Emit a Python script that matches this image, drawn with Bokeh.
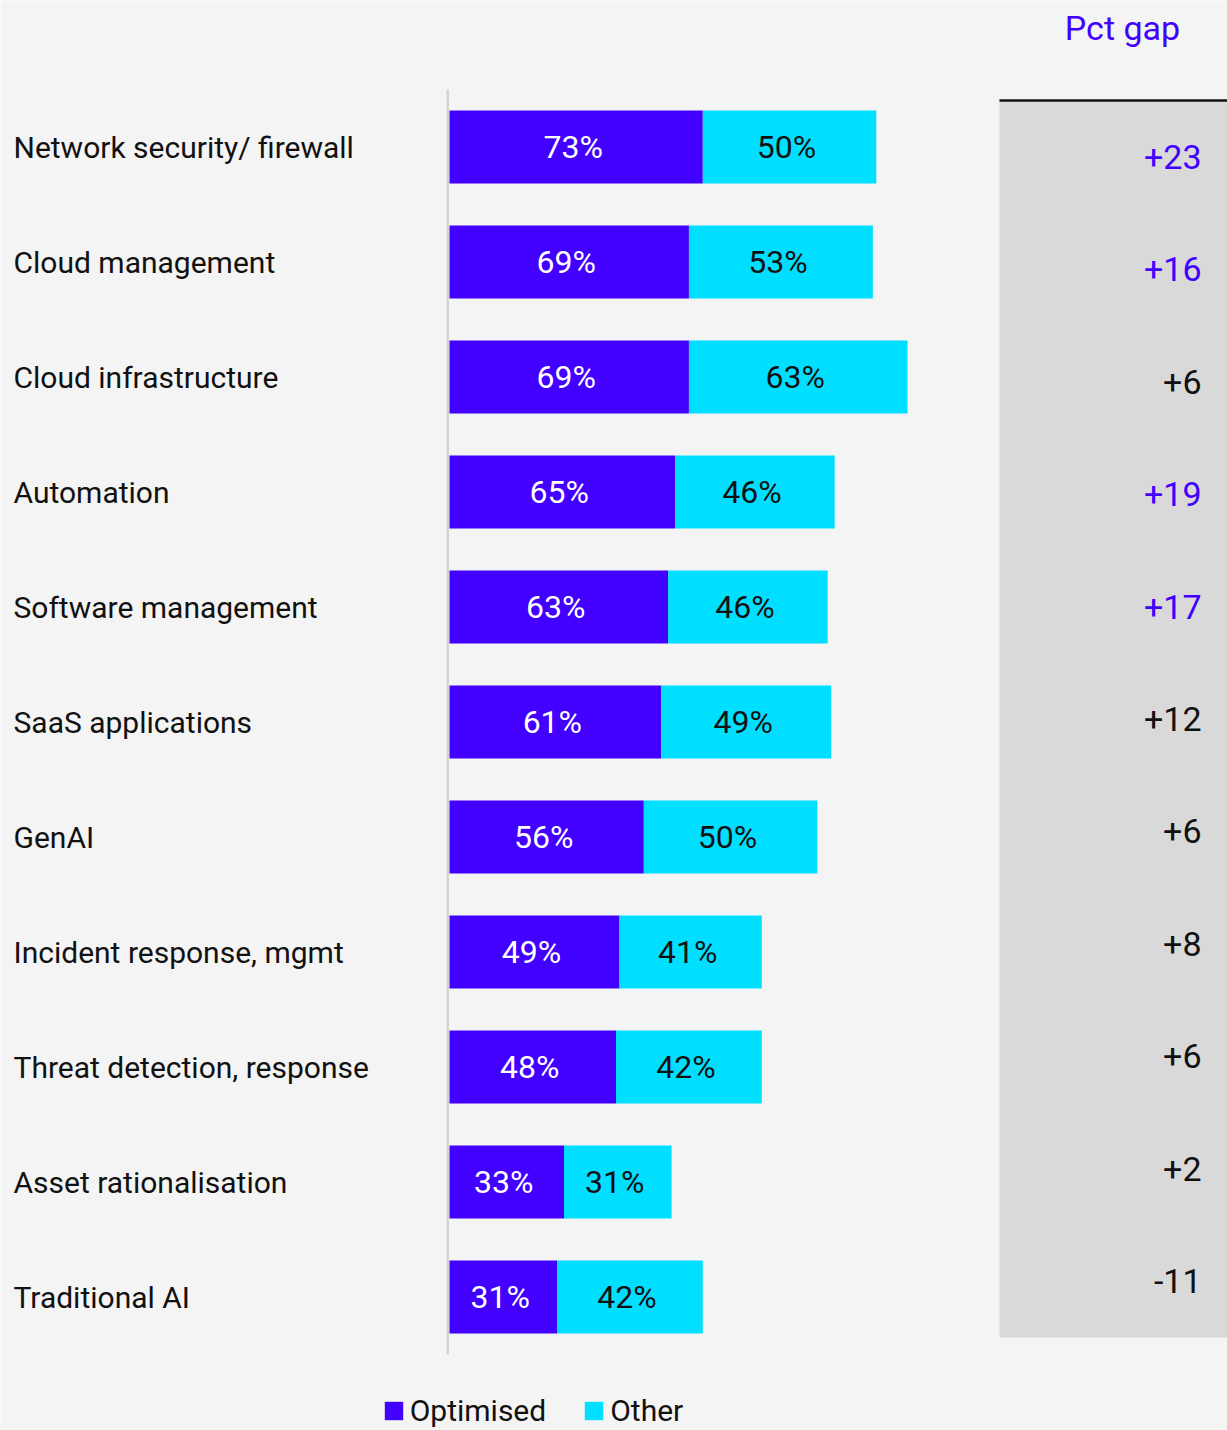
from bokeh.plotting import figure
from bokeh.models import ColumnDataSource, Range1d, Legend, LegendItem, Label
from bokeh.core.properties import value
from bokeh.embed import file_html
from bokeh.resources import INLINE

categories = [
    "Network security/ firewall",
    "Cloud management",
    "Cloud infrastructure",
    "Automation",
    "Software management",
    "SaaS applications",
    "GenAI",
    "Incident response, mgmt",
    "Threat detection, response",
    "Asset rationalisation",
    "Traditional AI",
]
optimised = [73, 69, 69, 65, 63, 61, 56, 49, 48, 33, 31]
other = [50, 53, 63, 46, 46, 49, 50, 41, 42, 31, 42]
gap = [23, 16, 6, 19, 17, 12, 6, 8, 6, 2, -11]

BLUE = "#4100ff"
CYAN = "#00dfff"
BG = "#f4f4f4"
PANEL = "#d9d9d9"
TXT = "#111111"
FONT = "Roboto"

W, H = 1227, 1430
PX = 3.47          # pixels per percentage point
X0 = 449           # pixel position of 0%
ROW = 115.0        # row pitch of bars
ROW0 = 146.5       # pixel of first row centre
PANEL_TOP, PANEL_BOT = 100.0, 1337.0
GROW = (PANEL_BOT - PANEL_TOP) / len(categories)

x_start = -X0 / PX
x_end = (W - X0) / PX

p = figure(
    width=W, height=H,
    x_range=Range1d(x_start, x_end),
    y_range=Range1d(start=(H - ROW0) / ROW, end=-ROW0 / ROW),
    output_backend="svg", toolbar_location=None,
    x_axis_location=None, y_axis_location=None,
    min_border=0, background_fill_color=BG, border_fill_color=BG,
    outline_line_color=None,
)
p.grid.visible = False
p.extra_y_ranges = {
    "gap": Range1d(start=len(categories) - 0.5 + (H - PANEL_BOT) / GROW,
                   end=-0.5 - PANEL_TOP / GROW)
}

idx = list(range(len(categories)))
src = ColumnDataSource(dict(
    y=idx,
    cat=categories,
    opt=optimised,
    oth=other,
    total=[a + b for a, b in zip(optimised, other)],
    opt_mid=[a / 2 for a in optimised],
    oth_mid=[a + b / 2 for a, b in zip(optimised, other)],
    opt_lbl=[f"{v}%" for v in optimised],
    oth_lbl=[f"{v}%" for v in other],
    gap_lbl=[f"+{g}" if g > 0 else f"{g}" for g in gap],
    gap_col=[BLUE if g >= 15 else TXT for g in gap],
))

# right-hand gap panel
panel_left = (999 - X0) / PX
p.quad(left=panel_left, right=x_end + 5, bottom=len(categories) - 0.5, top=-0.5,
       y_range_name="gap", fill_color=PANEL, line_color=None)
p.segment(x0=panel_left, x1=x_end + 5, y0=-0.5, y1=-0.5, y_range_name="gap",
          line_color="#111111", line_width=2.5)

# category axis line
p.segment(x0=-0.5, x1=-0.5, y0=-0.5, y1=len(categories) - 0.5,
          line_color="#d4d4d4", line_width=2.5)

r1 = p.hbar(y="y", left=0, right="opt", height=0.635, source=src,
            fill_color=BLUE, line_color=None)
r2 = p.hbar(y="y", left="opt", right="total", height=0.635, source=src,
            fill_color=CYAN, line_color=None)

p.text(x="opt_mid", y="y", text="opt_lbl", source=src, text_align="center",
       text_baseline="middle", text_color="white", text_font=value(FONT),
       text_font_size="32px", x_offset=-3)
p.text(x="oth_mid", y="y", text="oth_lbl", source=src, text_align="center",
       text_baseline="middle", text_color=TXT, text_font=value(FONT),
       text_font_size="32px", x_offset=-3)

p.text(x=(13 - X0) / PX, y="y", text="cat", source=src, text_align="left",
       text_baseline="middle", text_color=TXT, text_font=value(FONT),
       text_font_size="30px")

p.text(x=(1201 - X0) / PX, y="y", text="gap_lbl", source=src,
       y_range_name="gap", text_align="right", text_baseline="middle",
       text_color="gap_col", text_font=value(FONT), text_font_size="34px")

p.add_layout(Label(x=(1122 - X0) / PX, y=-0.5 - (100 - 27) / GROW,
                   y_range_name="gap", text="Pct gap", text_align="center",
                   text_baseline="middle", text_color=BLUE, text_font=FONT,
                   text_font_size="34px"))

legend = Legend(
    items=[LegendItem(label="Optimised", renderers=[r1]),
           LegendItem(label="Other", renderers=[r2])],
    orientation="horizontal", location=(381.7, 2),
    label_text_font=FONT, label_text_font_size="30px", label_text_color=TXT,
    glyph_width=23, glyph_height=23, label_standoff=5, spacing=36,
    padding=0, margin=0, border_line_color=None, background_fill_alpha=0,
)
p.add_layout(legend)

open("out.html", "w").write(file_html(p, INLINE))
